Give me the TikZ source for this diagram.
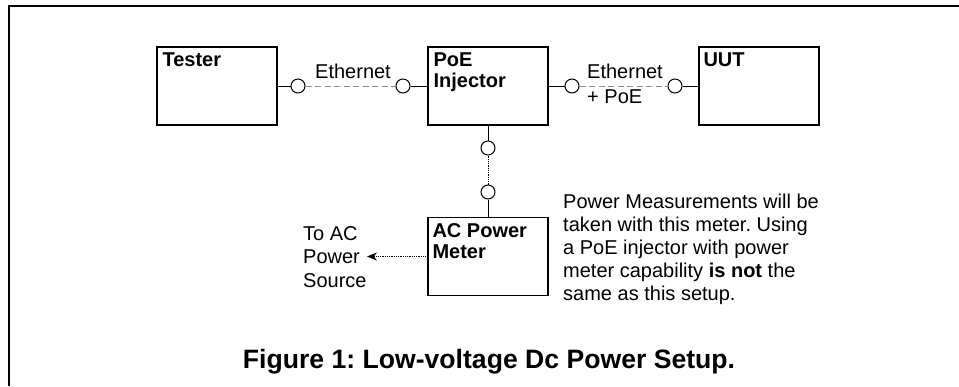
\documentclass[tikz,border=0pt]{standalone}
\usepackage{fontspec}
\setmainfont{Liberation Sans}
\usetikzlibrary{arrows.meta}
\frenchspacing

\begin{document}
\begin{tikzpicture}[x=1pt, y=-1pt, node distance=271pt]
	\tikzstyle{device} = [rectangle, minimum width=120pt, minimum height=78pt, 
	inner sep=0pt, draw=black, line width=1.3pt]
	\tikzstyle{devName} = [anchor=base west, inner sep=0pt, align=left, 
	font=\fontsize{20}{21}\selectfont\bfseries]
	\tikzstyle{plug} = [circle, minimum size=14pt, inner sep=0pt, draw=black, 
	fill=white, line width=1pt]
	\tikzstyle{txt} = [anchor=base west, inner sep=0pt, align=left, 
	font=\fontsize{20}{23.5}\selectfont]
	\tikzstyle{cable} = [line width=0.9pt]
	\tikzstyle{ethernet} = [line width=1pt, black!45, dash pattern=on 6pt off 3.5pt]
	\tikzstyle{powerCord} = [line width=0.8pt, densely dotted]
	\tikzstyle{arrow} = [powerCord, -{Stealth[length=10pt, width=8pt]}]
	\useasboundingbox (0,0) rectangle (959,386);
	\draw [line width=2.5pt] (9,386) -- (9,6) -- (959,6);
	\node (tester) [device] at (217,86) {};
	\node (poeInjector) [device, right of=tester] {};
	\node (uut) [device, right of=poeInjector] {};
	\node (acMeter) [device, below of=poeInjector, node distance=170.5pt] {};
	\node (testerName) [devName] at ([xshift=6pt, yshift=-20pt]tester.north west) {Tester};
	\node (poeName) [devName] at ([xshift=6pt, yshift=-41pt]poeInjector.north west) 
	{PoE\\Injector};
	\node (uutName) [devName] at ([xshift=5pt, yshift=-20pt]uut.north west) {UUT};
	\node (acMeterName) [devName] at ([xshift=5pt, yshift=-42pt]acMeter.north west) 
	{AC Power\\Meter};
	\node (testerPort) [plug] at (298,86) {};
	\node (poeInPort) [plug] at (403,86) {};
	\node (poeOutPort) [plug] at (572,86) {};
	\node (uutPort) [plug] at (675,86) {};
	\node (poePowerPort) [plug] at (488,148) {};
	\node (meterPort) [plug] at (488,192) {};
	\coordinate (acSource) at (367,256.5);
	\node (ethernetLabel) [txt] at (315,78) {Ethernet};
	\node (ethernetPoeLabel) [txt, font=\fontsize{20}{25}\selectfont] at (587,103) 
	{Ethernet\\+ PoE};
	\node (acSourceLabel) [txt] at (303,287) {To AC\\Power\\Source};
	\node (meterNote) [txt, font=\fontsize{20}{23}\selectfont] at (563,300) 
	{Power Measurements will be\\taken with this meter. Using\\a PoE injector with power\\
	meter capability \textbf{is not} the\\same as this setup.};
	\node (caption) [anchor=base, inner sep=0pt, font=\fontsize{26.6}{30}\selectfont\bfseries] 
	at (489,368) {Figure 1: Low-voltage Dc Power Setup.};
	\draw [cable] (tester) -- (testerPort);
	\draw [ethernet] (testerPort) -- (poeInPort);
	\draw [cable] (poeInPort) -- (poeInjector);
	\draw [cable] (poeInjector) -- (poeOutPort);
	\draw [ethernet] (poeOutPort) -- (uutPort);
	\draw [cable] (uutPort) -- (uut);
	\draw [cable] (poeInjector) -- (poePowerPort);
	\draw [powerCord] (poePowerPort) -- (meterPort);
	\draw [cable] (meterPort) -- (acMeter);
	\draw [arrow] (acMeter) -- (acSource);
\end{tikzpicture}
\end{document}
